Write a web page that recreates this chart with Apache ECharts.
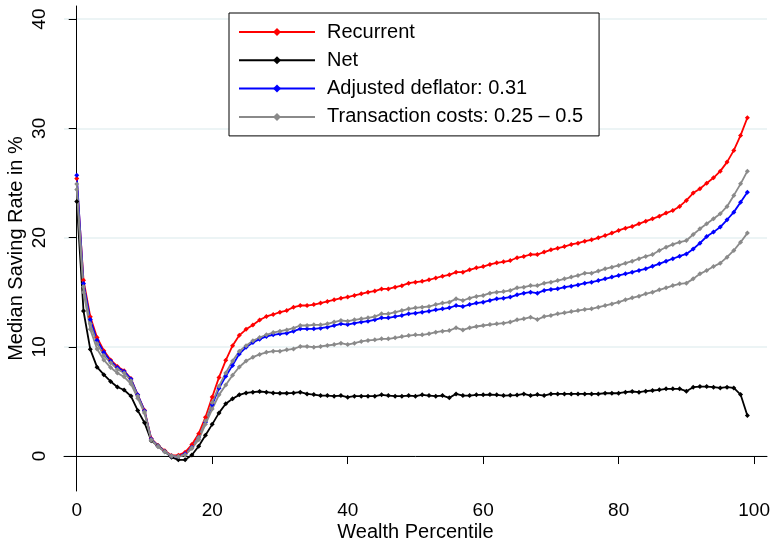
<!DOCTYPE html>
<html>
<head>
<meta charset="utf-8">
<script src="https://cdn.jsdelivr.net/npm/echarts@6/dist/echarts.min.js"></script>
<style>
  html, body { margin: 0; padding: 0; background: #fff; }
  #chart { width: 772px; height: 540px; }
</style>
</head>
<body>
<div id="chart"></div>
<script>
// wealth percentile 0..99
const percentiles = Array.from({ length: 100 }, (_, i) => i);

const recurrent = [
  25.4, 16.1, 12.75, 10.85, 9.65, 8.8, 8.2, 7.8, 7.1, 5.6,
  4.2, 1.6, 0.97, 0.48, 0.05, 0.08, 0.35, 1.05, 2.05, 3.55,
  5.4, 7.2, 8.76, 10.1, 11.05, 11.6, 12.0, 12.45, 12.78, 12.96,
  13.17, 13.32, 13.63, 13.78, 13.78, 13.87, 14.0, 14.15, 14.3, 14.45,
  14.55, 14.7, 14.85, 15.0, 15.1, 15.3, 15.3, 15.46, 15.6, 15.83,
  15.92, 16.0, 16.13, 16.3, 16.47, 16.59, 16.83, 16.83, 17.05, 17.23,
  17.35, 17.54, 17.69, 17.78, 17.9, 18.15, 18.27, 18.45, 18.45, 18.67,
  18.88, 19.03, 19.18, 19.37, 19.49, 19.67, 19.8, 19.98, 20.19, 20.41,
  20.65, 20.86, 21.02, 21.26, 21.5, 21.72, 21.96, 22.24, 22.48, 22.85,
  23.4, 24.07, 24.47, 24.98, 25.47, 26.08, 26.91, 27.98, 29.35, 30.97
];

const net = [
  23.3, 13.28, 9.77, 8.14, 7.45, 6.83, 6.32, 6.05, 5.49, 4.18,
  3.05, 1.4, 0.95, 0.4, -0.1, -0.35, -0.35, 0.1, 0.9, 1.9,
  2.9, 3.95, 4.78, 5.25, 5.6, 5.78, 5.85, 5.91, 5.85, 5.78,
  5.75, 5.75, 5.78, 5.85, 5.69, 5.63, 5.54, 5.54, 5.48, 5.54,
  5.39, 5.48, 5.48, 5.48, 5.48, 5.6, 5.54, 5.48, 5.48, 5.54,
  5.48, 5.6, 5.54, 5.48, 5.54, 5.33, 5.69, 5.54, 5.54, 5.6,
  5.6, 5.63, 5.6, 5.54, 5.56, 5.58, 5.69, 5.54, 5.63, 5.54,
  5.69, 5.69, 5.69, 5.69, 5.69, 5.69, 5.69, 5.69, 5.75, 5.75,
  5.75, 5.85, 5.91, 5.85, 5.94, 6.0, 6.06, 6.15, 6.15, 6.15,
  5.94, 6.3, 6.36, 6.36, 6.3, 6.24, 6.3, 6.24, 5.63, 3.71
];

const adjDeflator = [
  25.7, 15.8, 12.5, 10.6, 9.5, 8.7, 8.1, 7.75, 7.05, 5.6,
  4.15, 1.55, 0.92, 0.42, 0.0, -0.05, 0.2, 0.8, 1.7, 3.1,
  4.7, 6.2, 7.3, 8.3, 9.35, 9.95, 10.4, 10.7, 10.95, 11.1,
  11.19, 11.25, 11.43, 11.65, 11.65, 11.65, 11.71, 11.8, 11.95, 12.1,
  12.04, 12.16, 12.26, 12.35, 12.47, 12.65, 12.65, 12.77, 12.87, 13.02,
  13.08, 13.17, 13.26, 13.39, 13.48, 13.57, 13.78, 13.69, 13.87, 14.0,
  14.09, 14.24, 14.39, 14.45, 14.55, 14.76, 14.91, 15.0, 14.91, 15.16,
  15.25, 15.31, 15.46, 15.55, 15.67, 15.83, 15.92, 16.07, 16.22, 16.38,
  16.53, 16.68, 16.83, 16.99, 17.14, 17.38, 17.6, 17.84, 18.06, 18.3,
  18.5, 18.95, 19.49, 20.1, 20.5, 20.96, 21.63, 22.33, 23.24, 24.16
];

// transaction costs 0.25 (upper) and 0.5 (lower)
const txCostLow = [
  24.9, 15.5, 12.1, 10.3, 9.2, 8.55, 7.95, 7.6, 6.9, 5.5,
  4.05, 1.5, 0.9, 0.4, 0.0, -0.05, 0.12, 0.75, 1.7, 3.2,
  4.9, 6.4, 7.6, 8.7, 9.6, 10.1, 10.55, 10.85, 11.1, 11.3,
  11.43, 11.55, 11.71, 11.95, 11.95, 12.01, 12.01, 12.1, 12.26, 12.41,
  12.35, 12.47, 12.56, 12.65, 12.77, 13.02, 13.02, 13.17, 13.32, 13.48,
  13.57, 13.63, 13.69, 13.87, 14.0, 14.09, 14.39, 14.24, 14.45, 14.61,
  14.7, 14.91, 15.0, 15.06, 15.16, 15.4, 15.46, 15.61, 15.61, 15.83,
  15.92, 16.07, 16.22, 16.38, 16.53, 16.74, 16.74, 16.93, 17.14, 17.29,
  17.45, 17.66, 17.84, 18.06, 18.27, 18.45, 18.82, 19.12, 19.37, 19.58,
  19.73, 20.28, 20.8, 21.26, 21.72, 22.18, 22.85, 23.86, 24.92, 26.08
];

const txCostHigh = [
  24.4, 15.0, 11.6, 9.8, 8.8, 8.1, 7.6, 7.25, 6.6, 5.3,
  3.95, 1.45, 0.85, 0.4, 0.0, -0.05, 0.1, 0.7, 1.5, 2.9,
  4.3, 5.6, 6.5, 7.4, 8.15, 8.7, 9.05, 9.3, 9.5, 9.6,
  9.6, 9.72, 9.81, 10.03, 10.03, 9.97, 10.03, 10.12, 10.21, 10.33,
  10.21, 10.33, 10.49, 10.58, 10.64, 10.73, 10.73, 10.82, 10.94, 11.03,
  11.1, 11.1, 11.19, 11.34, 11.43, 11.49, 11.74, 11.55, 11.74, 11.86,
  11.95, 12.04, 12.1, 12.16, 12.26, 12.47, 12.56, 12.71, 12.5, 12.77,
  12.87, 13.02, 13.11, 13.23, 13.32, 13.42, 13.48, 13.63, 13.78, 13.93,
  14.09, 14.3, 14.48, 14.64, 14.85, 15.0, 15.22, 15.4, 15.61, 15.77,
  15.83, 16.22, 16.68, 16.99, 17.35, 17.66, 18.21, 18.82, 19.58, 20.41
];

const xTicks = [0, 20, 40, 60, 80, 100];
const yTicks = [0, 10, 20, 30, 40];

const TX_NAME = "Transaction costs: 0.25 \u2013 0.5";
const FONT = "'Liberation Sans', Arial, Helvetica, sans-serif";

function pairs(vals) {
  return percentiles.map((p, i) => [p, vals[i]]);
}

function lineSeries(name, vals, color) {
  return {
    name: name,
    type: "line",
    data: pairs(vals),
    symbol: "diamond",
    symbolSize: 5,
    showAllSymbol: true,
    lineStyle: { color: color, width: 1.8 },
    itemStyle: { color: color },
    emphasis: { disabled: true },
  };
}

const chart = echarts.init(document.getElementById("chart"), null, { renderer: "canvas" });

const options = {
  animation: false,
  backgroundColor: "#fff",
  textStyle: { fontFamily: FONT },
  grid: { left: 64, right: 5, top: 6, bottom: 49, outerBoundsMode: "none", containLabel: false },
  legend: {
    orient: "vertical",
    left: 229,
    top: 13,
    data: ["Recurrent", "Net", "Adjusted deflator: 0.31", TX_NAME],
    itemWidth: 76,
    itemHeight: 10,
    itemGap: 8.3,
    padding: [9, 16, 9, 9],
    backgroundColor: "#fff",
    borderColor: "#000",
    borderWidth: 1,
    textStyle: { color: "#000", fontSize: 20, fontFamily: FONT, padding: [0, 0, 0, 7] },
  },
  xAxis: {
    type: "value",
    min: -1.88,
    max: 101.9,
    name: "Wealth Percentile",
    nameLocation: "middle",
    nameGap: 31,
    nameMoveOverlap: false,
    nameTextStyle: { color: "#000", fontSize: 20, fontFamily: FONT },
    axisLine: { show: true, lineStyle: { color: "#000", width: 1 } },
    axisTick: { show: true, length: 8, customValues: xTicks, lineStyle: { color: "#000" } },
    axisLabel: { customValues: xTicks, color: "#000", fontSize: 19, margin: 10, fontFamily: FONT },
    splitLine: { show: false },
  },
  yAxis: {
    type: "value",
    min: -3.2,
    max: 41.2,
    name: "Median Saving Rate in %",
    nameLocation: "middle",
    nameGap: 38,
    nameMoveOverlap: false,
    nameTextStyle: { color: "#000", fontSize: 20, fontFamily: FONT },
    axisLine: { show: true, lineStyle: { color: "#000", width: 1 } },
    axisTick: { show: true, length: 8, customValues: yTicks, lineStyle: { color: "#000" } },
    axisLabel: { customValues: yTicks, color: "#000", fontSize: 19, margin: 15, rotate: 90, fontFamily: FONT },
    splitLine: { show: true, lineStyle: { color: "#e6f0f2", width: 1.5 } },
  },
  series: [
    lineSeries("Recurrent", recurrent, "#ff0000"),
    lineSeries("Net", net, "#000000"),
    lineSeries("Adjusted deflator: 0.31", adjDeflator, "#0000ff"),
    lineSeries(TX_NAME, txCostLow, "#8a8a8a"),
    lineSeries(TX_NAME, txCostHigh, "#8a8a8a"),
  ],
};

chart.setOption(options);

window.addEventListener("resize", () => {
  chart.resize();
});
</script>
</body>
</html>
